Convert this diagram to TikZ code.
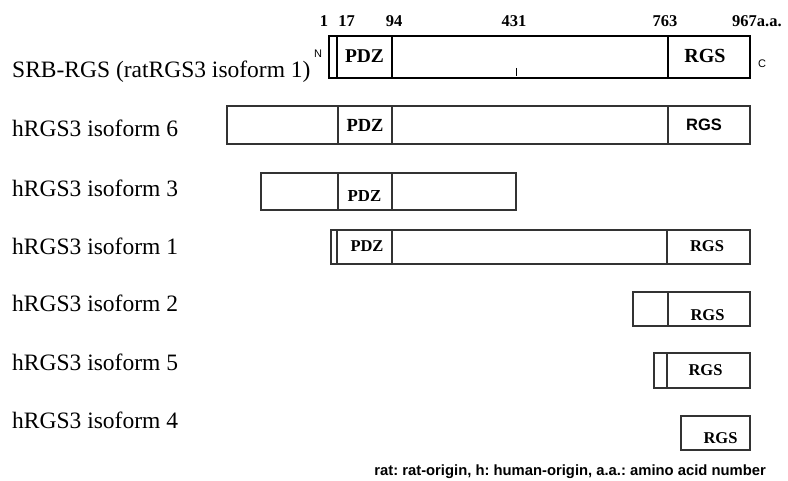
\documentclass[tikz,border=0pt]{standalone}
\usepackage{fontspec}
\setmainfont{Liberation Serif}
\newfontfamily\arialfont{Liberation Sans}
\frenchspacing
\tikzset{
  lab/.style={anchor=base west, inner sep=0pt, font=\fontsize{23.5bp}{28bp}\selectfont},
  dom/.style={anchor=base, inner sep=0pt, font=\bfseries\fontsize{#1}{#1}\selectfont},
  sdom/.style={anchor=base, inner sep=0pt, font=\arialfont\bfseries\fontsize{#1}{#1}\selectfont},
  num/.style={anchor=base, inner sep=0pt, font=\bfseries\fontsize{16.5bp}{18bp}\selectfont},
  term/.style={anchor=base, inner sep=0pt, font=\arialfont\fontsize{11bp}{12bp}\selectfont},
  boxline/.style={line width=1.3bp, draw=black!80},
  mainline/.style={line width=1.9bp, draw=black},
}
\begin{document}
\begin{tikzpicture}[x=1bp,y=-1bp]
\useasboundingbox (0,0) rectangle (788,481);
\fill[white] (0,0) rectangle (788,481);

% ---- Row 1: SRB-RGS ----
\node[lab] (l1) at (12,78) {SRB-RGS (ratRGS3 isoform 1)};
\draw[mainline] (329,36) rectangle (750,78);
\draw[mainline] (337,36) -- (337,78);
\draw[mainline] (392,36) -- (392,78);
\draw[mainline] (668,36) -- (668,78);
\draw[line width=0.9bp] (516,68) -- (516,76);
\node[dom=19.5bp] (pdz1) at (364.5,63) {PDZ};
\node[dom=20bp] (rgs1) at (705,63) {RGS};
\node[term] (nterm) at (318,58) {N};
\node[term, anchor=base west] (cterm) at (758,68) {C};
\node[num] (n1) at (324,27) {1};
\node[num] (n17) at (346.5,27) {17};
\node[num] (n94) at (394,27) {94};
\node[num] (n431) at (514,27) {431};
\node[num] (n763) at (665,27) {763};
\node[num, anchor=base west] (n967) at (732,27) {967a.a.};

% ---- Row 2: isoform 6 ----
\node[lab] (l2) at (12,137) {hRGS3 isoform 6};
\draw[boxline] (227,106) rectangle (750,144);
\draw[boxline] (338,106) -- (338,144);
\draw[boxline] (392,106) -- (392,144);
\draw[boxline] (668,106) -- (668,144);
\node[dom=18.5bp] (pdz2) at (365,132) {PDZ};
\node[sdom=16.5bp] (rgs2) at (704,131) {RGS};

% ---- Row 3: isoform 3 ----
\node[lab] (l3) at (12,197) {hRGS3 isoform 3};
\draw[boxline] (261,173) rectangle (516,210);
\draw[boxline] (338,173) -- (338,210);
\draw[boxline] (392,173) -- (392,210);
\node[dom=16.8bp] (pdz3) at (364.5,201.5) {PDZ};

% ---- Row 4: isoform 1 ----
\node[lab] (l4) at (12,255) {hRGS3 isoform 1};
\draw[boxline] (331,230) rectangle (750,264);
\draw[boxline] (337,230) -- (337,264);
\draw[boxline] (392,230) -- (392,264);
\draw[boxline] (667,230) -- (667,264);
\node[dom=16.5bp] (pdz4) at (367,252) {PDZ};
\node[dom=16.5bp] (rgs4) at (707,252) {RGS};

% ---- Row 5: isoform 2 ----
\node[lab] (l5) at (12,312) {hRGS3 isoform 2};
\draw[boxline] (633,292) rectangle (750,326);
\draw[boxline] (668,292) -- (668,326);
\node[dom=16.5bp] (rgs5) at (707.5,320) {RGS};

% ---- Row 6: isoform 5 ----
\node[lab] (l6) at (12,370) {hRGS3 isoform 5};
\draw[boxline] (654,353) rectangle (750,388);
\draw[boxline] (667,353) -- (667,388);
\node[dom=16.5bp] (rgs6) at (705.5,375) {RGS};

% ---- Row 7: isoform 4 ----
\node[lab] (l7) at (12,428) {hRGS3 isoform 4};
\draw[boxline] (681,416) rectangle (750,450);
\node[dom=16.5bp] (rgs7) at (720.5,443) {RGS};

% ---- footnote ----
\node[anchor=base east, inner sep=0pt, font=\arialfont\bfseries\fontsize{14.8bp}{16bp}\selectfont] (foot) at (766,475) {rat: rat-origin, h: human-origin, a.a.: amino acid number};
\end{tikzpicture}
\end{document}
